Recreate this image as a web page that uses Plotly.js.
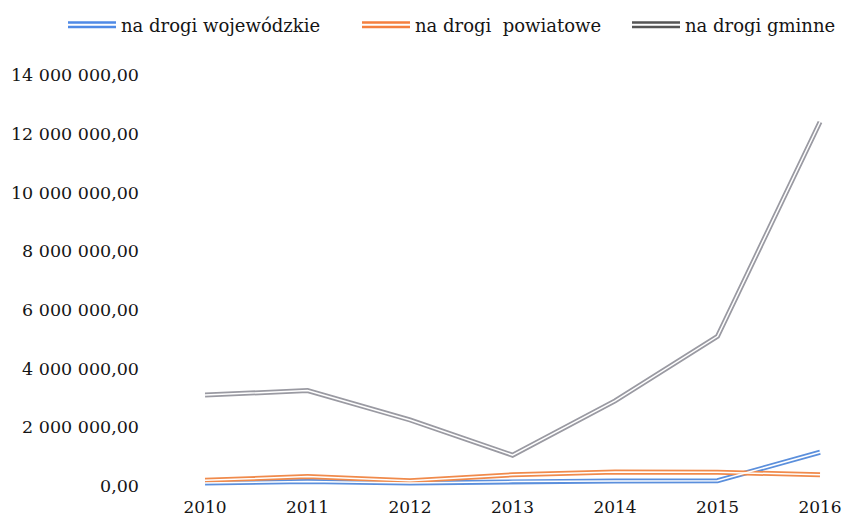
<!DOCTYPE html>
<html>
<head>
<meta charset="utf-8">
<script src="https://cdn.plot.ly/plotly-3.0.1.min.js"></script>
<style>html,body{margin:0;padding:0;background:#fff;}</style>
</head>
<body>
<div id="chart" style="width:849px;height:519px;"></div>
<script>
const years = [2010, 2011, 2012, 2013, 2014, 2015, 2016];
const wojewodzkie = [100000, 150000, 100000, 150000, 170000, 180000, 1150000];
const powiatowe = [200000, 320000, 180000, 380000, 480000, 470000, 380000];
const gminne = [3100000, 3250000, 2250000, 1050000, 2900000, 5100000, 12400000];
const names = ['na drogi wojewódzkie', 'na drogi\u00a0 powiatowe', 'na drogi gminne'];
const colors = ['#5b8fdc', '#f08a4b', '#9a9aa2'];
const legendColors = ['#4f8ae6', '#f47f3e', '#555555'];
const yTicks = [0, 2000000, 4000000, 6000000, 8000000, 10000000, 12000000, 14000000];

const series = [wojewodzkie, powiatowe, gminne];
const legendIds = ['legend', 'legend2', 'legend3'];
const legendLeftPx = [63, 357, 627];
const traces = [];
series.forEach((vals, i) => {
  traces.push({x: years, y: vals, type: 'scatter', mode: 'lines', name: names[i],
    line: {color: colors[i], width: 5}, showlegend: true, legend: legendIds[i]});
});
series.forEach((vals, i) => {
  traces.push({x: years, y: vals, type: 'scatter', mode: 'lines', name: names[i] + ' inner',
    line: {color: '#ffffff', width: 1.5}, showlegend: false, hoverinfo: 'skip'});
});

const serif = 'DejaVu Serif';
const mL = 150, mR = 9, W = 849;
const plotW = W - mL - mR;
const layout = {
  width: W, height: 519,
  margin: {l: mL, r: mR, t: 70, b: 29, autoexpand: false},
  paper_bgcolor: '#fff', plot_bgcolor: '#fff',
  separators: ', ',
  font: {family: serif, color: '#151515', size: 18},
  showlegend: true,
  xaxis: {range: [2009.463, 2016.195], tickvals: years, ticktext: years.map(String),
    showgrid: false, zeroline: false, showline: false, ticks: '', ticklabelstandoff: 5,
    tickfont: {family: serif, size: 17, color: '#151515'}},
  yaxis: {range: [-136000, 14170000], tickvals: yTicks, tickformat: ',.2f',
    showgrid: false, zeroline: false, showline: false, ticks: '', ticklabelstandoff: 10,
    tickfont: {family: serif, size: 17.5, color: '#151515'}},
};
legendIds.forEach((id, i) => {
  layout[id] = {orientation: 'h', x: (legendLeftPx[i] - mL) / plotW, xanchor: 'left',
    y: 1.107, yanchor: 'middle', itemwidth: 48, bgcolor: 'rgba(0,0,0,0)',
    font: {family: serif, size: 18, color: '#151515'}};
});

Plotly.newPlot('chart', traces, layout, {staticPlot: true}).then(() => {
  document.querySelectorAll('.legendlines path').forEach((p, i) => {
    p.style.stroke = legendColors[i % legendColors.length];
    p.style.strokeWidth = '7px';
    const c = p.cloneNode(true);
    c.style.stroke = '#ffffff';
    c.style.strokeWidth = '2px';
    p.parentNode.appendChild(c);
  });
});
</script>
</body>
</html>
